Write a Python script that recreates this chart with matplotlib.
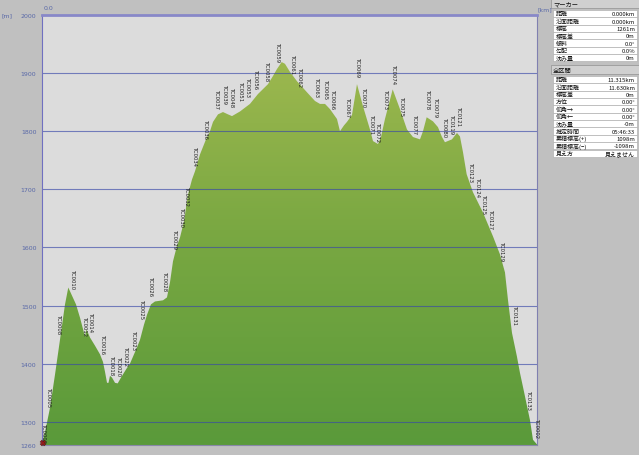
import numpy as np
import matplotlib.pyplot as plt
from matplotlib.colors import LinearSegmentedColormap
from matplotlib.patches import Polygon, Rectangle

# ---- 断面データ (距離 km / 標高 m) ----
dist = [0.000, 0.091, 0.183, 0.297, 0.411, 0.526, 0.601, 0.686, 0.777, 0.869,
        0.960, 0.983, 1.017, 1.097, 1.211, 1.326, 1.394, 1.440, 1.486, 1.520,
        1.554, 1.600, 1.669, 1.730, 1.806, 1.920, 2.011, 2.080, 2.171, 2.240,
        2.331, 2.400, 2.491, 2.583, 2.766, 2.857, 2.926, 2.994, 3.086, 3.154,
        3.246, 3.337, 3.429, 3.497, 3.611, 3.749, 3.840, 3.909, 4.023, 4.137,
        4.251, 4.343, 4.526, 4.754, 4.937, 5.166, 5.280, 5.371, 5.479, 5.554,
        5.669, 5.829, 6.057, 6.240, 6.354, 6.469, 6.583, 6.743, 6.811, 6.903,
        6.971, 7.086, 7.200, 7.337, 7.497, 7.566, 7.680, 7.749, 7.840, 8.016,
        8.183, 8.343, 8.480, 8.640, 8.709, 8.793, 8.937, 9.051, 9.143, 9.211,
        9.371, 9.486, 9.554, 9.623, 9.707, 9.851, 10.080, 10.309, 10.469, 10.583,
        10.651, 10.743, 10.857, 10.926, 11.017, 11.154, 11.223, 11.315]
elev = [1261, 1290, 1324, 1381, 1441, 1502, 1531, 1517, 1502, 1479,
        1453, 1447, 1459, 1445, 1431, 1416, 1403, 1386, 1367, 1367,
        1379, 1376, 1367, 1366, 1376, 1390, 1400, 1412, 1428, 1441,
        1467, 1484, 1502, 1507, 1509, 1514, 1540, 1576, 1603, 1617,
        1645, 1691, 1717, 1731, 1760, 1786, 1800, 1816, 1829, 1833,
        1829, 1826, 1834, 1847, 1864, 1881, 1895, 1907, 1919, 1916,
        1902, 1886, 1867, 1852, 1847, 1847, 1838, 1821, 1800, 1810,
        1816, 1828, 1881, 1843, 1803, 1783, 1778, 1790, 1821, 1872,
        1838, 1803, 1790, 1786, 1800, 1824, 1817, 1807, 1790, 1781,
        1786, 1797, 1791, 1764, 1726, 1695, 1660, 1619, 1588, 1557,
        1510, 1453, 1412, 1384, 1352, 1303, 1269, 1261]

# ---- ウェイポイント ----
wp_names = ["TC0002", "TC0005", "TC0008", "TC0010", "TC0012", "TC0014", "TC0016",
            "TC0018", "TC0020", "TC0022", "TC0023", "TC0025", "TC0026", "TC0028",
            "TC0029", "TC0030", "TC0032", "TC0034", "TC0036", "TC0037", "TC0039",
            "TC0048", "TC0051", "TC0053", "TC0056", "TC0058", "TC0059", "TC0061",
            "TC0062", "TC0063", "TC0065", "TC0066", "TC0067", "TC0069", "TC0070",
            "TC0071", "TC0072", "TC0073", "TC0074", "TC0075", "TC0077", "TC0078",
            "TC0079", "TC0080", "TC0119", "TC0121", "TC0123", "TC0124", "TC0125",
            "TC0127", "TC0129", "TC0131", "TC0133", "TC0002"]
wp_dist = [0.023, 0.137, 0.366, 0.686, 0.960, 1.097, 1.387, 1.577, 1.744, 1.897,
           2.087, 2.279, 2.469, 2.811, 3.017, 3.177, 3.314, 3.497, 3.737, 3.993,
           4.160, 4.336, 4.542, 4.702, 4.891, 5.120, 5.378, 5.730, 5.881, 6.279,
           6.491, 6.645, 6.987, 7.207, 7.360, 7.536, 7.680, 7.856, 8.030, 8.206,
           8.510, 8.816, 8.999, 9.189, 9.349, 9.515, 9.799, 9.950, 10.087, 10.256,
           10.507, 10.789, 11.109, 11.307]
wp_elev = [1264, 1326, 1450, 1528, 1448, 1455, 1416, 1381, 1378, 1395,
           1424, 1476, 1516, 1524, 1597, 1636, 1671, 1740, 1786, 1838,
           1847, 1841, 1852, 1859, 1872, 1886, 1919, 1898, 1876, 1859,
           1855, 1838, 1824, 1893, 1841, 1795, 1781, 1838, 1881, 1826,
           1795, 1838, 1824, 1790, 1795, 1809, 1712, 1686, 1657, 1631,
           1576, 1467, 1321, 1272]

yticks = [1260, 1300, 1400, 1500, 1600, 1700, 1800, 1900, 2000]

marker_labels = ["距離", "沿面距離", "標高", "標高差", "傾斜", "勾配", "沈み量"]
marker_values = ["0.000km", "0.000km", "1261m", "0m", "0.0°", "0.0%", "0m"]
total_labels = ["距離", "沿面距離", "標高差", "方位", "仰角→", "仰角←", "沈み量",
                "推定時間", "累積標高(+)", "累積標高(−)", "見え方"]
total_values = ["11.315km", "11.630km", "0m", "0.00°", "0.00°", "0.00°", "-0m",
                "05:46:33", "1098m", "-1098m", "見えません"]

plt.rcParams['font.family'] = ['Noto Sans CJK JP', 'DejaVu Sans']

W, H = 639, 456
fig = plt.figure(figsize=(W / 100, H / 100), dpi=100)
fig.patch.set_facecolor('#c0c0c0')

ax = fig.add_axes([42 / W, 10 / H, 495 / W, 430 / H])
ax.set_facecolor('#dcdcdc')

# グラデーション塗り
verts = [(dist[0], 1260)] + list(zip(dist, elev)) + [(dist[-1], 1260)]
poly = Polygon(verts, closed=True, facecolor='none', edgecolor='none')
ax.add_patch(poly)
cmap = LinearSegmentedColormap.from_list('grn', ['#5a9a3a', '#7aa842', '#a6bc52'])
grad = np.linspace(0, 1, 256).reshape(-1, 1)
im = ax.imshow(grad, extent=[0, 11.315, 1260, 2000], origin='lower', aspect='auto',
               cmap=cmap, zorder=1)
im.set_clip_path(poly)

for t in yticks[1:-1]:
    ax.axhline(t, color='#3848a8', lw=0.8, alpha=0.65, zorder=2)

ax.set_xlim(0, 11.315)
ax.set_ylim(1260, 2000)
ax.set_xticks([])
ax.set_yticks(yticks)
ax.tick_params(axis='y', length=0, pad=4, labelsize=4.5, labelcolor='#5868a8')
for lab in ax.get_yticklabels():
    lab.set_family('DejaVu Sans')

ax.spines['left'].set_color('#7070c0')
ax.spines['top'].set_color('#8888c8')
ax.spines['top'].set_linewidth(2)
ax.spines['right'].set_color('#8080b0')
ax.spines['bottom'].set_color('#8888a8')

for name, d, e in zip(wp_names, wp_dist, wp_elev):
    ax.text(d, e, name, rotation=270, ha='center', va='bottom', fontsize=3.8,
            color='#202020', family='DejaVu Sans', zorder=4)

ax.plot(0.03, 1263, marker='X', color='#a01818', ms=4, mec='#401010', mew=0.3,
        clip_on=False, zorder=5)

# 軸ラベル
pax = fig.add_axes([0, 0, 1, 1])
pax.set_xlim(0, W)
pax.set_ylim(H, 0)
pax.axis('off')
pax.text(2, 16, "[m]", fontsize=4.5, color='#5868a8', va='center', family='DejaVu Sans')
pax.text(44, 8, "0.0", fontsize=4.5, color='#5868a8', va='center', family='DejaVu Sans')
pax.text(538, 10, "[km]", fontsize=4.5, color='#5868a8', va='center', family='DejaVu Sans')

# 右側パネル
def panel(title, labels, values, y_top):
    pax.add_patch(Rectangle((551, y_top), 88, 9, fc='#d0d0d0', ec='#909090', lw=0.5))
    pax.text(553, y_top + 4.5, title, fontsize=4.5, va='center', color='#101010')
    y = y_top + 11
    rh = 7.35
    for k, v in zip(labels, values):
        pax.add_patch(Rectangle((553, y), 84, rh, fc='white', ec='#a8a8a8', lw=0.4))
        pax.text(556, y + rh / 2, k, fontsize=4.3, va='center', color='#101010')
        pax.text(635, y + rh / 2, v, fontsize=4.3, va='center', ha='right', color='#101010')
        y += rh

panel("マーカー", marker_labels, marker_values, 0)
panel("全区間", total_labels, total_values, 66)

fig.savefig('out.png', dpi=100, facecolor=fig.get_facecolor())
